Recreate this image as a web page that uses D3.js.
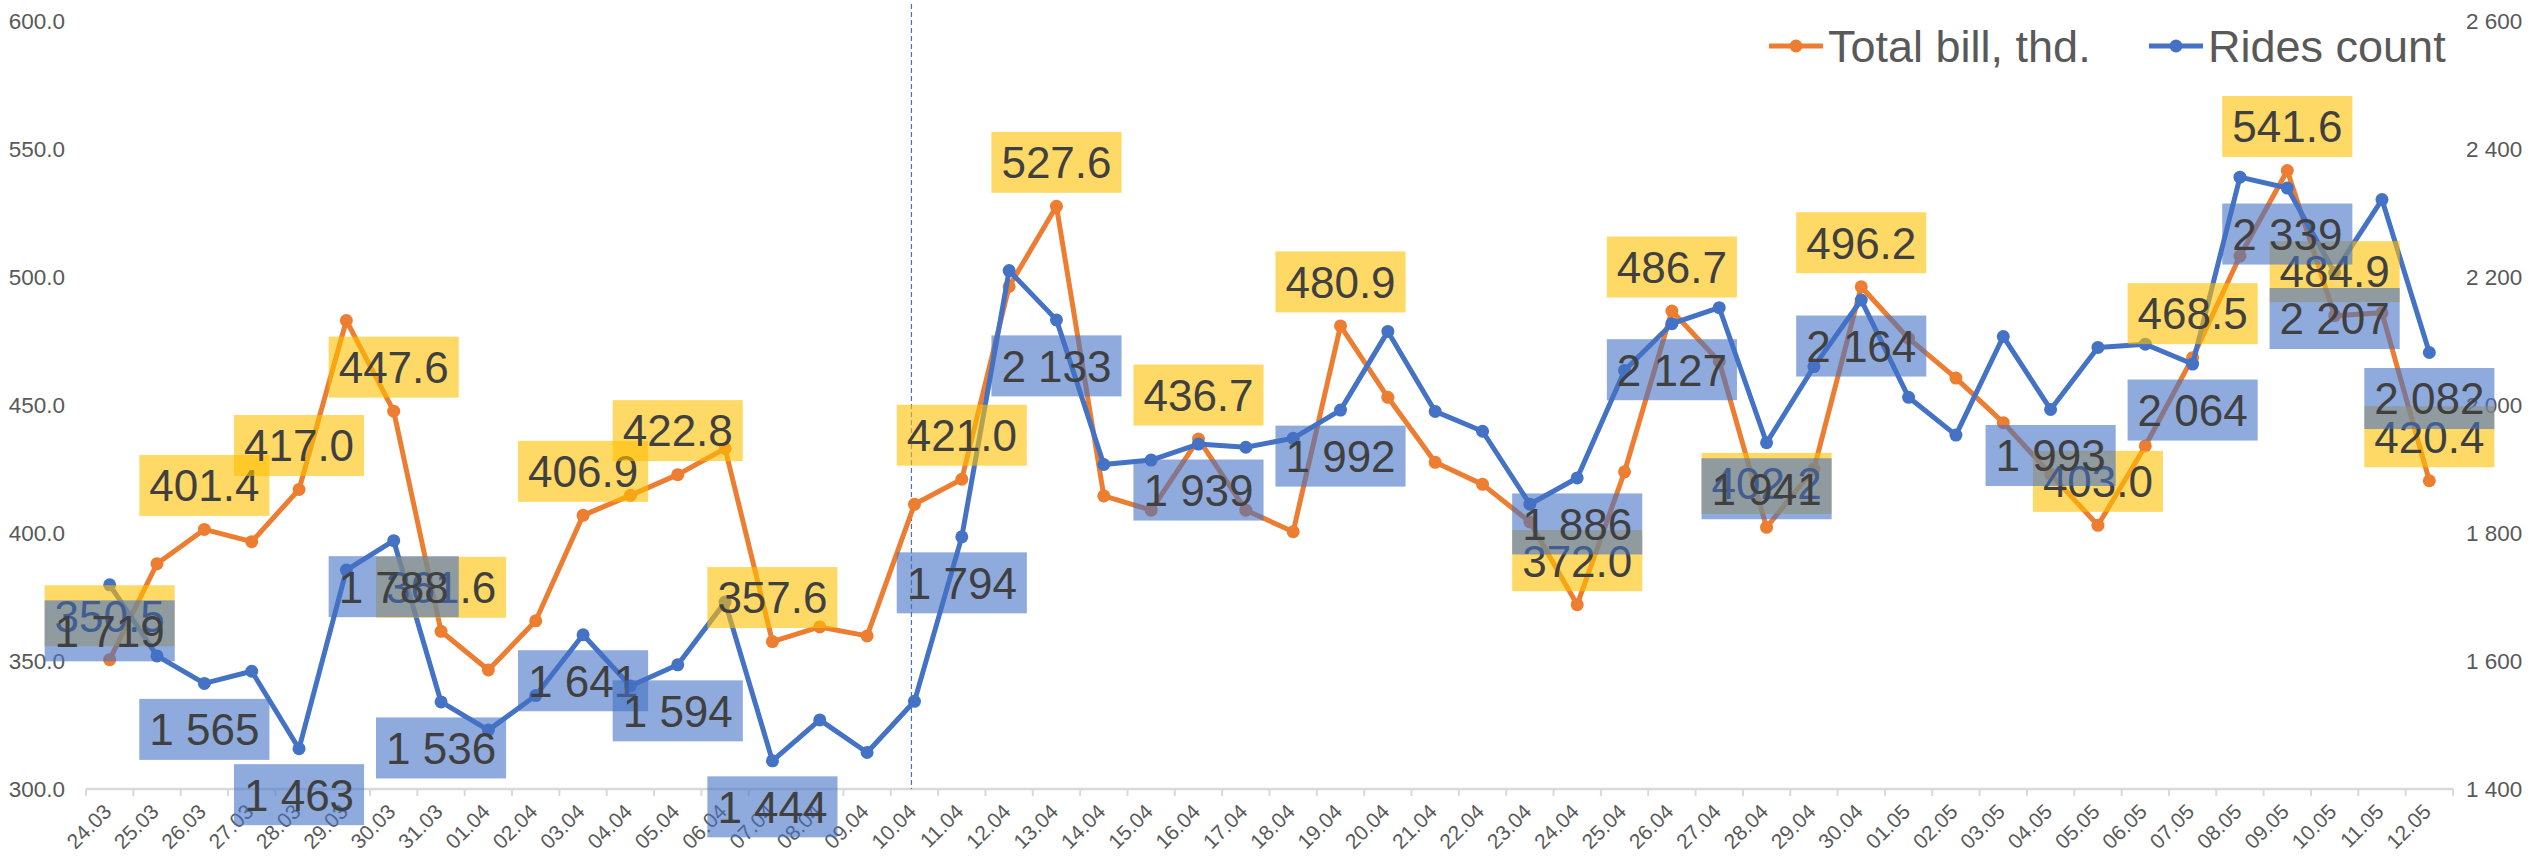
<!DOCTYPE html>
<html>
<head>
<meta charset="utf-8">
<script src="https://cdn.jsdelivr.net/npm/d3@7"></script>
<style>
  body { margin: 0; background: #fff; }
  text { font-family: "Liberation Sans", Arial, sans-serif; }
</style>
</head>
<body>
<div id="chart"></div>
<script>
// dates on the x axis
var dates = ["24.03","25.03","26.03","27.03","28.03","29.03","30.03","31.03",
  "01.04","02.04","03.04","04.04","05.04","06.04","07.04","08.04","09.04","10.04",
  "11.04","12.04","13.04","14.04","15.04","16.04","17.04","18.04","19.04","20.04",
  "21.04","22.04","23.04","24.04","25.04","26.04","27.04","28.04","29.04","30.04",
  "01.05","02.05","03.05","04.05","05.05","06.05","07.05","08.05","09.05","10.05",
  "11.05","12.05"];
// total bill, thousands (left axis)
var totalBill = [350.5,388.0,401.4,396.6,417.0,483.0,447.6,361.6,
  346.5,365.7,406.9,414.7,422.8,433.0,357.6,363.3,359.8,411.2,
  421.0,496.3,527.6,414.5,408.9,436.7,408.9,400.5,480.9,453.0,
  427.6,419.0,404.3,372.0,423.9,486.7,467.0,402.2,425.0,496.2,
  476.0,460.5,443.1,423.0,403.0,434.0,468.5,508.2,541.6,484.9,
  486.0,420.4];
// rides count (right axis)
var ridesCount = [1719,1608,1565,1584,1463,1742,1788,1536,
  1492,1546,1641,1561,1594,1692,1444,1508,1457,1537,
  1794,2210,2133,1907,1914,1939,1934,1948,1992,2115,
  1990,1959,1845,1886,2054,2127,2152,1941,2060,2164,
  2012,1953,2107,1993,2090,2095,2064,2356,2339,2207,
  2321,2082];
// which points carry a data label
var billLabelDates = ["24.03","26.03","28.03","30.03","31.03","03.04","05.04","07.04",
  "11.04","13.04","16.04","19.04","24.04","26.04","28.04","30.04","05.05","07.05",
  "09.05","10.05","12.05"];
var ridesLabelDates = ["24.03","26.03","28.03","30.03","31.03","03.04","05.04","07.04",
  "11.04","13.04","16.04","19.04","24.04","26.04","28.04","30.04","04.05","07.05",
  "09.05","10.05","12.05"];
var leftTicks = [300,350,400,450,500,550,600];
var rightTicks = [1400,1600,1800,2000,2200,2400,2600];
var markerDate = "10.04";
var seriesNames = ["Total bill, thd.", "Rides count"];

//svg size
var svgWidth = 2534;
var svgHeight = 857;
var orange = "#ED7D31";
var blue = "#4472C4";

var svg = d3.select("#chart").append("svg")
    .attr("width", svgWidth)
    .attr("height", svgHeight);

//scales
var x = d3.scaleBand().domain(dates).range([86, 2453]);
var cx = d => x(d) + x.bandwidth() / 2;
var yLeft = d3.scaleLinear().domain([300, 600]).range([789, 21]);
var yRight = d3.scaleLinear().domain([1400, 2600]).range([789, 21]);

var spaceFmt = d3.formatLocale({decimal: ".", thousands: " ", grouping: [3], currency: ["", ""]}).format(",d");
var oneDec = d3.format(".1f");

//left axis
var leftAxis = svg.append("g")
    .attr("transform", "translate(65,0)")
    .call(d3.axisLeft(yLeft).tickValues(leftTicks).tickFormat(oneDec).tickSize(0).tickPadding(0));
//right axis
var rightAxis = svg.append("g")
    .attr("transform", "translate(2466,0)")
    .call(d3.axisRight(yRight).tickValues(rightTicks).tickFormat(spaceFmt).tickSize(0).tickPadding(0));
[leftAxis, rightAxis].forEach(function (a) {
    a.select(".domain").remove();
    a.selectAll("text").attr("font-size", "22.5px").attr("fill", "#595959")
        .style("font-family", "'Liberation Sans', Arial, sans-serif");
});

//bottom axis
var bottomAxis = svg.append("g")
    .attr("transform", "translate(0,789)")
    .call(d3.axisBottom(x).tickSize(0).tickPadding(0));
bottomAxis.select(".domain").remove();
bottomAxis.selectAll("text")
    .attr("font-size", "21px")
    .attr("fill", "#595959")
    .style("font-family", "'Liberation Sans', Arial, sans-serif")
    .attr("text-anchor", "end")
    .attr("dy", null)
    .attr("y", 0)
    .attr("transform", "translate(3,24) rotate(-45)");
svg.append("line")
    .attr("x1", x.range()[0]).attr("x2", x.range()[1])
    .attr("y1", 789).attr("y2", 789)
    .attr("stroke", "#D9D9D9").attr("stroke-width", 2.5);
svg.append("g").selectAll("line")
    .data(dates.concat([null]))
    .enter().append("line")
    .attr("x1", (d, i) => x.range()[0] + i * x.step())
    .attr("x2", (d, i) => x.range()[0] + i * x.step())
    .attr("y1", 789).attr("y2", 796)
    .attr("stroke", "#D9D9D9").attr("stroke-width", 2);

//dashed marker line
svg.append("line")
    .attr("x1", cx(markerDate) - 3).attr("x2", cx(markerDate) - 3)
    .attr("y1", 4).attr("y2", 789)
    .attr("stroke", blue).attr("stroke-width", 1.2)
    .attr("stroke-dasharray", "5,3");

//lines and markers
function drawSeries(values, yScale, color) {
    var line = d3.line()
        .x((d, i) => cx(dates[i]))
        .y(d => yScale(d));
    svg.append("path")
        .datum(values)
        .attr("d", line)
        .attr("fill", "none")
        .attr("stroke", color)
        .attr("stroke-width", 5)
        .attr("stroke-linejoin", "round");
    svg.append("g").selectAll("circle")
        .data(values)
        .enter().append("circle")
        .attr("cx", (d, i) => cx(dates[i]))
        .attr("cy", d => yScale(d))
        .attr("r", 6.5)
        .attr("fill", color);
}
drawSeries(totalBill, yLeft, orange);
drawSeries(ridesCount, yRight, blue);

//data labels with semi transparent boxes
function drawLabels(labelDates, values, yScale, offset, fill, fmt) {
    labelDates.forEach(function (d) {
        var i = dates.indexOf(d);
        var g = svg.append("g")
            .attr("transform", `translate(${cx(d)}, ${yScale(values[i]) + offset})`);
        var rect = g.append("rect").attr("fill", fill);
        var t = g.append("text")
            .attr("text-anchor", "middle")
            .attr("dy", "0.36em")
            .attr("font-size", "44px")
            .attr("fill", "#404040")
            .text(fmt(values[i]));
        var w = t.node().getComputedTextLength() + 20;
        rect.attr("x", -w / 2).attr("y", -30.5).attr("width", w).attr("height", 61);
    });
}
drawLabels(billLabelDates, totalBill, yLeft, -44, "rgba(255,192,0,0.6)", oneDec);
drawLabels(ridesLabelDates, ridesCount, yRight, 46, "rgba(68,114,196,0.6)", spaceFmt);

//legend
var legend = svg.append("g");
var legendItems = [
    {name: seriesNames[0], color: orange, x: 1769},
    {name: seriesNames[1], color: blue, x: 2149}
];
legendItems.forEach(function (item) {
    legend.append("line")
        .attr("x1", item.x).attr("x2", item.x + 54)
        .attr("y1", 46).attr("y2", 46)
        .attr("stroke", item.color).attr("stroke-width", 5);
    legend.append("circle")
        .attr("cx", item.x + 27).attr("cy", 46).attr("r", 6.5)
        .attr("fill", item.color);
    legend.append("text")
        .attr("x", item.x + 59).attr("y", 62)
        .attr("font-size", "45px")
        .attr("fill", "#595959")
        .text(item.name);
});
</script>
</body>
</html>
